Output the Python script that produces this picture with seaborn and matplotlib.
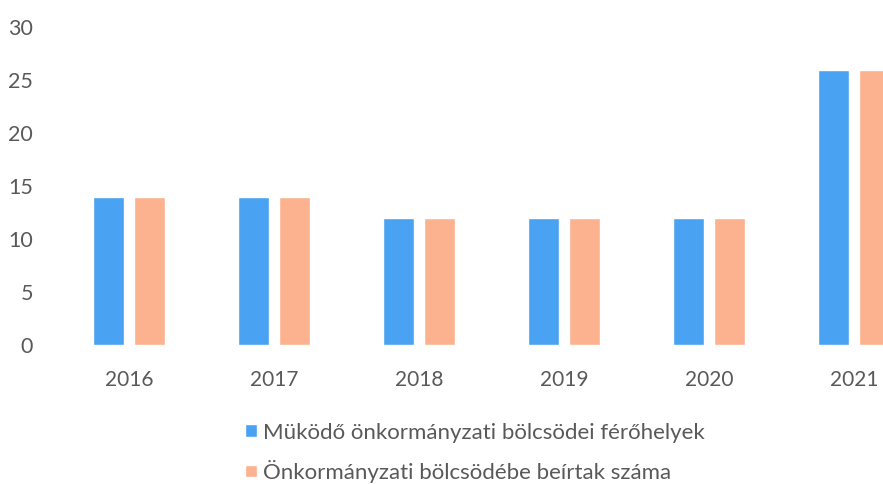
import matplotlib
matplotlib.use("Agg")
import matplotlib.pyplot as plt
import seaborn as sns
import pandas as pd

years = ["2016", "2017", "2018", "2019", "2020", "2021"]
ferohelyek = [14, 14, 12, 12, 12, 26]
beirtak = [14, 14, 12, 12, 12, 26]
series_names = ["Müködő önkormányzati bölcsödei férőhelyek",
                "Önkormányzati bölcsödébe beírtak száma"]
colors = ["#4aa2f2", "#fcb28f"]

df = pd.DataFrame({
    "ev": years * 2,
    "ertek": ferohelyek + beirtak,
    "sorozat": [series_names[0]] * len(years) + [series_names[1]] * len(years),
})

sns.set_theme(style="white")
plt.rcParams["font.family"] = ["Lato", "DejaVu Sans"]
text_color = "#595959"

fig = plt.figure(figsize=(8.83, 4.84), dpi=100)
ax = fig.add_axes([0.064, 0.287, 0.985, 0.657])

sns.barplot(data=df, x="ev", y="ertek", hue="sorozat", palette=colors,
            width=0.57, gap=0.25, saturation=1, ax=ax, legend=True)

ax.set_ylim(0, 30)
ax.set_xlim(-0.5, 5.5)
ax.set_yticks(range(0, 31, 5))
ax.set_xlabel("")
ax.set_ylabel("")
for s in ax.spines.values():
    s.set_visible(False)
ax.tick_params(axis="y", length=0, pad=17, labelsize=15.5, labelcolor=text_color)
ax.tick_params(axis="x", length=0, pad=18, labelsize=15, labelcolor=text_color)

handles, labels = ax.get_legend_handles_labels()
ax.get_legend().remove()
fig.legend(handles, labels, loc="upper left", bbox_to_anchor=(0.278, 0.127),
           ncol=1, frameon=False, fontsize=16, labelcolor=text_color,
           handlelength=0.5, handleheight=0.5, handletextpad=0.3,
           labelspacing=0.78, borderaxespad=0, borderpad=0)

fig.savefig("out.png", dpi=100)
